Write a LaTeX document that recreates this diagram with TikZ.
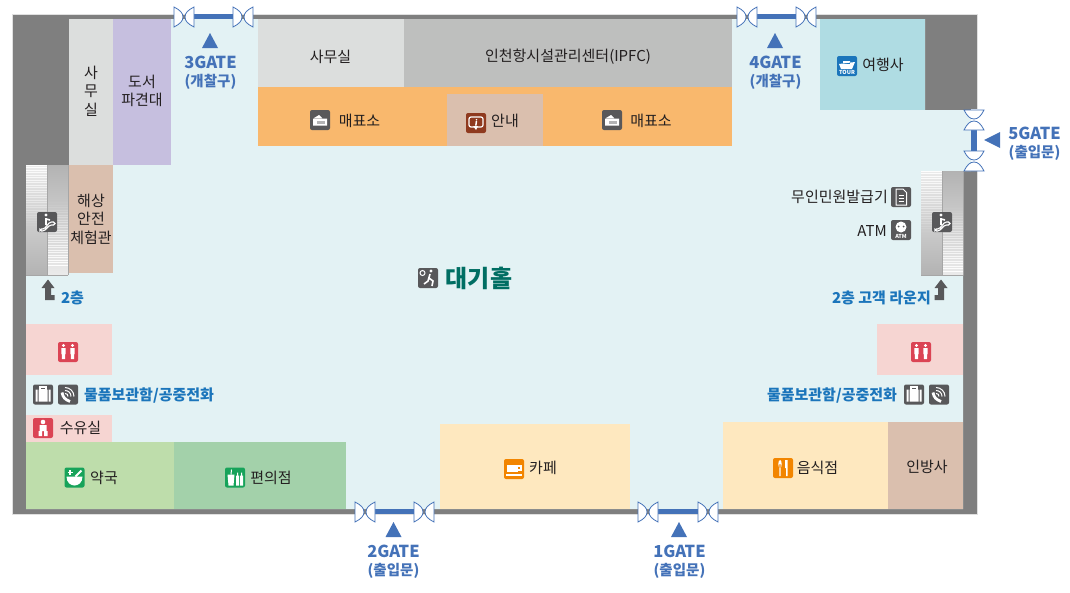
\documentclass[tikz,border=0pt]{standalone}
\usepackage{fontspec}
\setmainfont{Noto Sans CJK KR}
\usetikzlibrary{positioning}

\definecolor{wallgrey}{HTML}{7F7F7F}
\definecolor{floorblue}{HTML}{E3F2F4}
\definecolor{officegrey}{HTML}{DCDEDD}
\definecolor{ipfcgrey}{HTML}{BEBFBE}
\definecolor{libpurple}{HTML}{C6BFDF}
\definecolor{tanroom}{HTML}{DABFAE}
\definecolor{ticketorange}{HTML}{F9B86D}
\definecolor{tourcyan}{HTML}{AFDCE3}
\definecolor{wcpink}{HTML}{F6D5D2}
\definecolor{pharmgreen}{HTML}{BEDDAB}
\definecolor{storegreen}{HTML}{A3D1AA}
\definecolor{cafecream}{HTML}{FEE8BF}
\definecolor{gateblue}{HTML}{4472B8}
\definecolor{infoblue}{HTML}{1B75BB}
\definecolor{halltxt}{HTML}{006E63}
\definecolor{icongrey}{HTML}{58585A}
\definecolor{iconred}{HTML}{DB4454}
\definecolor{icongreen}{HTML}{17A35A}
\definecolor{iconorange}{HTML}{F28500}
\definecolor{iconbrown}{HTML}{8F3A1F}
\definecolor{iconblue}{HTML}{1B75BB}
\definecolor{txtdark}{HTML}{231F20}

\tikzset{
  roomtext/.style={inner sep=0pt, text=txtdark, font=\fontsize{15}{18.5}\selectfont, align=center},
  gatetext/.style={inner sep=0pt, text=gateblue, font=\fontsize{16.5}{18}\bfseries\selectfont},
  gatesub/.style={inner sep=0pt, text=gateblue, font=\fontsize{14.5}{18}\bfseries\selectfont},
  bluetext/.style={inner sep=0pt, text=infoblue, font=\fontsize{15}{18}\bfseries\selectfont},
  iconbox/.style={draw=none, minimum size=20pt, inner sep=0pt, rounded corners=2pt},
  gatebar/.style={fill=gateblue},
  % Gate door leaves
  pics/gatedoor/.style={code={
    \draw[gateblue, fill=white, line width=0.8pt]
      (-10,-10) -- (-10,10) .. controls (-4,7) and (-1,4) .. (-1,0) .. controls (-1,-4) and (-4,-7) .. (-10,-10) -- cycle
      (10,-10) -- (10,10) .. controls (4,7) and (1,4) .. (1,0) .. controls (1,-4) and (4,-7) .. (10,-10) -- cycle;
  }},
  % Icon glyphs, drawn around the centre of a box
  pics/gticket/.style={code={
    \fill[white] (-6,-2) -- (-1,-5) -- (2,-2) -- cycle (-7,-1.5) rectangle (7,5.5);
    \fill[icongrey!45] (-3,1) rectangle (5,3.5);
  }},
  pics/ginfo/.style={code={
    \draw[white, line width=1.2pt, rounded corners=2pt] (-7,-6) rectangle (7,4);
    \fill[white] (-3,3) -- (2,3) -- (0,7) -- cycle;
    \fill[white] (-0.3,-2) -- (1.2,-2) -- (0.6,2.5) -- (-0.9,2.5) -- cycle (0.5,-3.2) circle (0.9);
  }},
  pics/gescal/.style={code={
    \draw[white, line width=1.1pt, rounded corners=1.5pt] (-7,7) -- (-3,7) -- (3,0) -- (8,0) -- (8,3) -- (3,3) -- (-3,9) -- (-7,9) -- cycle;
    \fill[white] (-1,-7) circle (1.6);
    \draw[white, line width=1.6pt] (-1,-4) -- (-1,3) (-1,-3) -- (3,-2);
  }},
  pics/gwc/.style={code={
    \foreach \s in {-4.5,4.5} {
      \fill[white] (\s,-6.5) circle (1.7);
      \fill[white] (\s-2.2,-4) rectangle (\s+2.2,2) (\s-1.6,2) rectangle (\s+1.6,7);
    }
  }},
  pics/gbag/.style={code={
    \draw[white, line width=1.1pt] (-3,-5) rectangle (3,-7.5);
    \fill[white] (-7.5,-5) rectangle (-5.5,7) (-4.5,-5) rectangle (4.5,7) (5.5,-5) rectangle (7.5,7);
  }},
  pics/gphone/.style={code={
    \draw[white, line width=2.8pt] (-6,-2) .. controls (-5,3) and (-3,5) .. (2,7);
    \draw[white, line width=1pt] (-3,-1) .. controls (-1,-1) and (0,0) .. (0,2)
      (-3,-4) .. controls (0.5,-4) and (3,-1.5) .. (3,2)
      (-3,-7) .. controls (2,-7) and (6,-3) .. (6,2);
  }},
  pics/gbaby/.style={code={
    \fill[white] (0,-6) circle (2.3);
    \fill[white] (-3.5,-3) rectangle (3.5,3) (-4.5,3) rectangle (-1,8) (1,3) rectangle (4.5,8);
  }},
  pics/gmortar/.style={code={
    \fill[white] (-8,-1) -- (8,-1) .. controls (8,5) and (4,8) .. (0,8) .. controls (-4,8) and (-8,5) .. (-8,-1) -- cycle;
    \draw[white, line width=1.8pt] (1,-1) -- (7,-7);
    \draw[white, line width=1.2pt] (-7,-5) -- (-2,-5) (-4.5,-7.5) -- (-4.5,-2.5);
  }},
  pics/gstore/.style={code={
    \fill[white] (-7.5,-3) -- (-0.5,-3) -- (-1.5,8) -- (-6.5,8) -- cycle;
    \draw[white, line width=1pt] (-4,-3) -- (-3.5,-8);
    \fill[white] (1,-2) rectangle (4,8) (5,-2) rectangle (8,8) (2,-5) rectangle (3,-2) (6,-5) rectangle (7,-2);
  }},
  pics/gcup/.style={code={
    \fill[white] (-7,-4) rectangle (4,3);
    \draw[white, line width=1.2pt] (4,-3) -- (7,-3) -- (7,1) -- (4,1);
    \fill[white] (-8,5) rectangle (8,6.5);
  }},
  pics/gfood/.style={code={
    \fill[white] (-3,-4) ellipse (1.7 and 4) (-3.6,-4) rectangle (-2.4,8);
    \fill[white] (2,-8) -- (4.5,-8) -- (4.5,8) -- (3,8) -- (3,0) -- (2,0) -- cycle;
  }},
  pics/gtour/.style={code={
    \fill[white] (-8,-2) -- (8,-4) -- (5,3) -- (-6,3) -- cycle (-4,-5) rectangle (3,-2);
    \node[inner sep=0pt, text=white, font=\fontsize{5.5}{6}\bfseries\selectfont] (tourtag) at (0,6.5) {TOUR};
  }},
  pics/gdoc/.style={code={
    \draw[white, line width=1pt] (-5,-8) -- (2,-8) -- (5.5,-4.5) -- (5.5,8) -- (-5,8) -- cycle;
    \draw[white, line width=0.9pt] (-2.5,-2) -- (3,-2) (-2.5,1) -- (3,1) (-2.5,4) -- (3,4);
  }},
  pics/gatm/.style={code={
    \fill[white] (0,-3) circle (5.5);
    \fill[icongrey] (-2.5,-3.5) circle (1) (2.5,-3.5) circle (1);
    \node[inner sep=0pt, text=white, font=\fontsize{5.5}{6}\bfseries\selectfont] (atmtag) at (0,6) {ATM};
  }},
  pics/ghall/.style={code={
    \draw[white, line width=1pt] (-5.5,-5) circle (2.5);
    \fill[white] (3,-7) circle (1.7);
    \draw[white, line width=1.6pt] (2,-4) -- (0,3) -- (-4,6) (1,0) -- (5,3) -- (4,8);
  }}
}

\begin{document}
\begin{tikzpicture}[x=1pt, y=-1pt]
  \useasboundingbox (0,0) rectangle (1070,592);

  % Draw walls and floor
  \filldraw[fill=wallgrey, draw=black!12, line width=0.6pt] (12,14) rectangle (977,514);
  \fill[white] (971,109) rectangle (978,171);
  \fill[floorblue] (69,19) -- (925,19) -- (925,110) -- (971,110) -- (971,171) -- (963,171)
    -- (963,509) -- (26,509) -- (26,165) -- (69,165) -- cycle;

  % Draw rooms
  \foreach \xa/\ya/\xb/\yb/\col in {69/19/113/165/officegrey, 113/19/171/165/libpurple,
      69/165/113/273/tanroom, 258/19/404/87/officegrey, 404/19/732/87/ipfcgrey,
      258/87/732/146/ticketorange, 447/94/543/146/tanroom, 820/19/925/110/tourcyan,
      26/324/112/375/wcpink, 877/324/963/375/wcpink, 26/415/112/442/wcpink,
      26/442/174/509/pharmgreen, 174/442/346/509/storegreen, 440/424/630/509/cafecream,
      723/422/888/509/cafecream, 888/422/963/509/tanroom} {
    \fill[\col] (\xa,\ya) rectangle (\xb,\yb);
  }

  % Draw escalators
  \foreach \xa/\ya in {26/165, 921/171} {
    \pgfmathsetmacro{\xm}{\xa+21}
    \pgfmathsetmacro{\xb}{\xa+42}
    \shade[top color=black!8, bottom color=black!30] (\xa,\ya) rectangle (\xm,275);
    \shade[top color=black!30, bottom color=black!8] (\xm,\ya) rectangle (\xb,275);
    \foreach \y in {0,2.5,...,100} {
      \pgfmathsetmacro{\op}{max(0,0.9-\y/70)}
      \pgfmathsetmacro{\oq}{max(0,\y/70-0.5)}
      \draw[white, line width=0.8pt, opacity=\op] (\xa,\ya+\y) -- (\xm,\ya+\y);
      \draw[white, line width=0.8pt, opacity=\oq] (\xm,\ya+\y) -- (\xb,\ya+\y);
    }
    \draw[black!35, line width=0.8pt] (\xm,\ya) -- (\xm,275) (\xa,275) -- (\xb,275) (\xb,\ya) -- (\xb,275);
  }

  % Draw gates
  \foreach \xa/\ya/\xb/\yb in {194/14/233/19, 757/14/796/19, 375/509/414/514, 658/509/698/514, 971/129/977/152} {
    \fill[gatebar] (\xa,\ya) rectangle (\xb,\yb);
  }
  \foreach \x/\y/\rot in {184/17/0, 243/17/0, 747/17/0, 806/17/0, 365/512/0, 424/512/0,
      648/512/0, 708/512/0, 974/120/90, 974/161/90} {
    \pic[rotate=\rot] at (\x,\y) {gatedoor};
  }
  \foreach \x/\y in {210/33, 775/33, 393.5/522, 679/522} {
    \fill[gateblue] (\x,\y) -- (\x+8,\y+15) -- (\x-8,\y+15) -- cycle;
  }
  \fill[gateblue] (984,140) -- (1000,132) -- (1000,148) -- cycle;

  % Gate labels
  \foreach \nm/\x/\y/\txt/\sub in {three/210.5/62/3GATE/(개찰구), four/775.5/62/4GATE/(개찰구),
      two/393.5/551/2GATE/(출입문), one/679.5/551/1GATE/(출입문), five/1034.5/133/5GATE/(출입문)} {
    \node[gatetext] (gate\nm) at (\x,\y) {\txt};
    \node[gatesub, below=11pt of gate\nm.center, anchor=center, yshift=-9pt] (sub\nm) {\sub};
  }

  % Room labels
  \foreach \nm/\x/\y/\txt in {officeleft/91/91/{사\\무\\실}, library/142/91/{도서\\파견대},
      safety/91/219/{해상\\안전\\체험관}, officetop/330.5/57/사무실, ipfc/568/57/인천항시설관리센터(IPFC),
      ticketa/359.5/121/매표소, info/505/121/안내, ticketb/651/121/매표소, tour/883/65/여행사,
      nursing/80.5/428/수유실, pharmacy/104/478/약국, store/271/478/편의점, cafe/543/468/카페,
      food/817.5/467.5/음식점, radio/927/467/인방사} {
    \node[roomtext] (\nm) at (\x,\y) {\txt};
  }
  \node[roomtext, anchor=east] (kiosk) at (888,197) {무인민원발급기};
  \node[roomtext, anchor=east] (atm) at (887,231) {ATM};

  % Blue labels
  \node[bluetext] (floorleft) at (72.5,298) {2층};
  \node[bluetext, anchor=east] (lounge) at (931,298) {2층 고객 라운지};
  \node[bluetext] (lockleft) at (149,395) {물품보관함/공중전화};
  \node[bluetext] (lockright) at (832,395) {물품보관함/공중전화};
  \node[inner sep=0pt, text=halltxt, font=\fontsize{24}{26}\bfseries\selectfont] (hall) at (479,278) {대기홀};

  % Arrows to the second floor
  \fill[icongrey] (48,279.5) -- (54.5,288) -- (51,288) -- (51,295) -- (54.5,295) -- (54.5,300) -- (45,300) -- (45,288) -- (41.5,288) -- cycle;
  \fill[icongrey] (941,279.5) -- (947.5,288) -- (944,288) -- (944,300) -- (934.5,300) -- (934.5,295) -- (938,295) -- (938,288) -- (934.5,288) -- cycle;

  % Icons
  \foreach \nm/\x/\y/\col/\glyph in {iconticka/320/120/icongrey/gticket, iconinfo/476/123/iconbrown/ginfo,
      icontickb/612/120/icongrey/gticket, icontour/847/66/iconblue/gtour,
      iconescl/47/222/icongrey/gescal, iconescr/942/222/icongrey/gescal,
      icondoc/901/197/icongrey/gdoc, iconatm/901/230/icongrey/gatm, iconhall/428/278/icongrey/ghall,
      iconwcl/68/352/iconred/gwc, iconwcr/921/352/iconred/gwc,
      iconbagl/43/394.5/icongrey/gbag, iconphl/68/394.5/icongrey/gphone,
      iconbagr/914/394.5/icongrey/gbag, iconphr/939/394.5/icongrey/gphone,
      iconbaby/43/428/iconred/gbaby, iconpharm/74.5/477.5/icongreen/gmortar,
      iconstore/235/477.5/icongreen/gstore, iconcafe/514/469/iconorange/gcup,
      iconfood/783/468/iconorange/gfood} {
    \node[iconbox, fill=\col] (\nm) at (\x,\y) {};
    \path (\nm) pic {\glyph};
  }
\end{tikzpicture}
\end{document}
